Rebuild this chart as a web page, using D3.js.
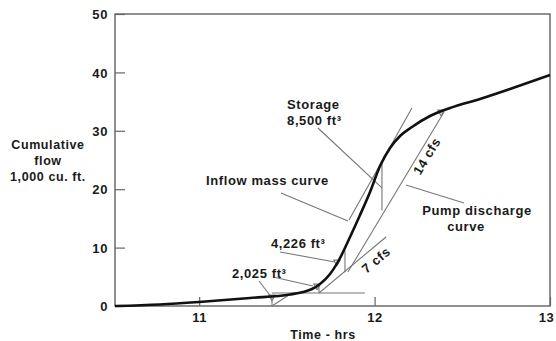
<!DOCTYPE html>
<html>
<head>
<meta charset="utf-8">
<script src="https://cdn.jsdelivr.net/npm/d3@7/dist/d3.min.js"></script>
<style>
  body { margin: 0; background: #fff; }
  text { font-family: "Liberation Sans", Arial, Helvetica, sans-serif; font-weight: bold; fill: #1a1a1a; letter-spacing: 0.6px; }
</style>
</head>
<body>
<div id="chart"></div>
<script>
// axis ticks
const xTicks = [11, 12, 13];
const yTicks = [0, 10, 20, 30, 40, 50];

// inflow mass curve (hours, 1,000 cu. ft.)
const inflowHours = [10.52, 10.777, 10.999, 11.29, 11.518, 11.592, 11.643, 11.689, 11.746, 11.803, 11.86,
  11.917, 11.974, 12.031, 12.088, 12.145, 12.213, 12.316, 12.43, 12.601, 12.772, 13.0];
const inflowVolume = [0, 0.26, 0.68, 1.37, 1.97, 2.4, 2.91, 3.77, 5.48, 8.22, 11.82,
  15.58, 19.52, 23.97, 27.05, 29.11, 30.65, 32.53, 33.9, 35.45, 37.16, 39.55];

// pump discharge / tangent lines: [x1, y1, x2, y2]
const pumpLines = [
  [11.415, 2.23, 11.945, 2.23],   // level line
  [11.415, 0, 11.529, 2.23],      // first start
  [11.683, 2.23, 12.065, 11.82],  // 7 cfs
  [11.848, 5.82, 12.396, 33.22],  // 14 cfs
  [11.854, 14.73, 12.213, 33.9]   // 14 cfs tangent
];
// storage (vertical) lines: [x, yLow, yHigh]
const storageLines = [
  [11.415, 0, 1.9],
  [11.683, 2.23, 3.7],
  [11.831, 5.8, 9.5],
  [12.042, 16.4, 24.7]
];
// small triangle marks
const markX = [11.415, 11.672, 11.786, 12.379];
const markY = [1.54, 3.42, 7.53, 33.22];

// leader lines from labels
const leaderLines = [
  [11.677, 30.48, 12.042, 20.21],  // storage
  [11.466, 19.35, 11.848, 14.55],  // inflow mass curve
  [11.461, 9.25, 11.774, 7.53],    // 4,226
  [11.341, 4.28, 11.415, 1.37],    // 2,025
  [11.421, 4.97, 11.649, 3.42],    // 2,025
  [12.179, 20.72, 12.51, 17.64]    // pump discharge
];
// labels: text, x, y, anchor, rotation
const labels = [
  ["Storage", 11.501, 33.73, "start", 0],
  ["8,500 ft³", 11.501, 30.99, "start", 0],
  ["Inflow mass curve", 11.039, 20.72, "start", 0],
  ["4,226 ft³", 11.409, 9.93, "start", 0],
  ["2,025 ft³", 11.187, 4.79, "start", 0],
  ["Pump discharge", 12.584, 15.58, "middle", 0],
  ["curve", 12.521, 12.84, "middle", 0],
  ["7 cfs", 12.008, 7.88, "middle", -40],
  ["14 cfs", 12.298, 25.67, "middle", -59]
];
const yTitle = ["Cumulative", "flow", "1,000 cu. ft."];
const xTitle = "Time - hrs";

const WIDTH = 556, HEIGHT = 341;
const PLOT = { LEFT: 115, RIGHT: 550, TOP: 14, BOTTOM: 306 };

const svg = d3.select("#chart")
  .append("svg")
  .attr("width", WIDTH)
  .attr("height", HEIGHT);

const x = d3.scaleLinear().domain([10.52, 13]).range([PLOT.LEFT, PLOT.RIGHT]);
const y = d3.scaleLinear().domain([0, 50]).range([PLOT.BOTTOM, PLOT.TOP]);

// frame
svg.append("rect")
  .attr("x", PLOT.LEFT)
  .attr("y", PLOT.TOP)
  .attr("width", PLOT.RIGHT - PLOT.LEFT)
  .attr("height", PLOT.BOTTOM - PLOT.TOP)
  .attr("fill", "none")
  .attr("stroke", "#555")
  .attr("stroke-width", 1.3);

// axes (ticks pointing inward)
const xAxis = svg.append("g")
  .attr("transform", `translate(0, ${PLOT.BOTTOM})`)
  .call(d3.axisBottom(x).tickValues(xTicks).tickSize(-9).tickPadding(7).tickFormat(d3.format("d")));
const yAxis = svg.append("g")
  .attr("transform", `translate(${PLOT.LEFT}, 0)`)
  .call(d3.axisLeft(y).tickValues(yTicks).tickSize(-10).tickPadding(7).tickFormat(d3.format("d")));

[xAxis, yAxis].forEach((g) => {
  g.select(".domain").remove();
  g.selectAll(".tick line").attr("stroke", "#666").attr("stroke-width", 1.2);
  g.selectAll(".tick text").attr("font-size", "13px").attr("fill", "#1a1a1a");
});
yAxis.selectAll(".tick text").attr("dy", "0.36em");
// last x label sits at the page edge, nudge it in
xAxis.selectAll(".tick text").filter((d) => d === 13).attr("dx", -4);

// axis titles
svg.append("text")
  .attr("x", 48)
  .attr("y", 149)
  .attr("text-anchor", "middle")
  .attr("font-size", "12.5px")
  .selectAll("tspan")
  .data(yTitle)
  .enter()
  .append("tspan")
  .attr("x", 48)
  .attr("dy", (d, i) => (i === 0 ? 0 : 16))
  .text((d) => d);

svg.append("text")
  .attr("x", 323)
  .attr("y", 339)
  .attr("text-anchor", "middle")
  .attr("font-size", "12.5px")
  .text(xTitle);

// thin construction lines
const thin = svg.append("g")
  .attr("stroke", "#777")
  .attr("stroke-width", 1.1)
  .attr("fill", "none");

thin.selectAll(".pump")
  .data(pumpLines)
  .enter()
  .append("line")
  .attr("class", "pump")
  .attr("x1", (d) => x(d[0])).attr("y1", (d) => y(d[1]))
  .attr("x2", (d) => x(d[2])).attr("y2", (d) => y(d[3]));

thin.selectAll(".storage")
  .data(storageLines)
  .enter()
  .append("line")
  .attr("class", "storage")
  .attr("x1", (d) => x(d[0])).attr("y1", (d) => y(d[1]))
  .attr("x2", (d) => x(d[0])).attr("y2", (d) => y(d[2]));

thin.selectAll(".leader")
  .data(leaderLines)
  .enter()
  .append("line")
  .attr("class", "leader")
  .attr("x1", (d) => x(d[0])).attr("y1", (d) => y(d[1]))
  .attr("x2", (d) => x(d[2])).attr("y2", (d) => y(d[3]));

const tri = d3.symbol().type(d3.symbolTriangle).size(18);
thin.selectAll(".mark")
  .data(markX)
  .enter()
  .append("path")
  .attr("class", "mark")
  .attr("d", tri)
  .attr("transform", (d, i) => `translate(${x(d)}, ${y(markY[i])}) rotate(180)`);

// inflow mass curve
const line = d3.line()
  .x((d, i) => x(inflowHours[i]))
  .y((d) => y(d))
  .curve(d3.curveMonotoneX);

svg.append("path")
  .attr("fill", "none")
  .attr("stroke", "#111")
  .attr("stroke-width", 2.6)
  .attr("stroke-linejoin", "round")
  .attr("d", line(inflowVolume));

// annotations
svg.selectAll(".label")
  .data(labels)
  .enter()
  .append("text")
  .attr("class", "label")
  .attr("font-size", "13px")
  .attr("text-anchor", (d) => d[3])
  .attr("dy", (d) => (d[4] ? "0.35em" : 0))
  .attr("transform", (d) => `translate(${x(d[1])}, ${y(d[2])}) rotate(${d[4]})`)
  .text((d) => d[0]);
</script>
</body>
</html>
